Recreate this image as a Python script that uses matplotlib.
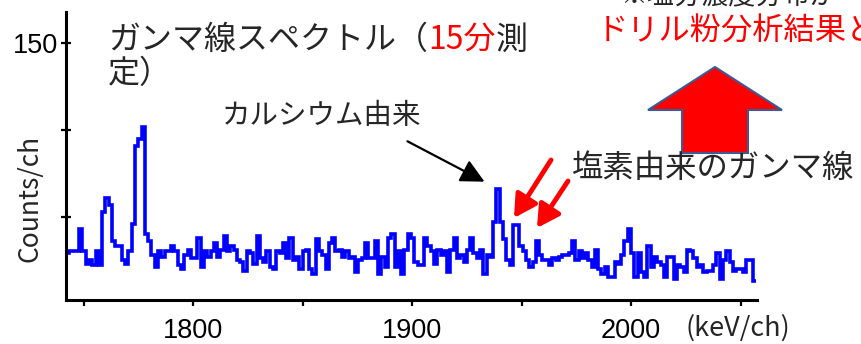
import numpy as np
import matplotlib.pyplot as plt
from matplotlib.patches import Polygon

plt.rcParams['font.family'] = ['Noto Sans CJK JP', 'DejaVu Sans']

# スペクトル (1.5 keV/ch, 1742 keV から)
e_start = 1742.0
ch_width = 1.5
counts = [
    29, 30, 30, 30, 43, 30, 23, 25, 22, 30,
    22, 53, 61, 57, 36, 33, 33, 25, 23, 30,
    46, 91, 95, 102, 40, 36, 28, 21, 30, 27,
    30, 30, 33, 30, 22, 20, 28, 31, 26, 26,
    38, 21, 30, 27, 30, 35, 27, 31, 39, 30,
    33, 31, 25, 24, 19, 30, 29, 23, 39, 26,
    24, 30, 21, 20, 30, 29, 35, 26, 38, 25,
    27, 20, 30, 31, 20, 17, 37, 30, 28, 20,
    35, 38, 30, 31, 27, 30, 26, 27, 18, 25,
    26, 35, 26, 26, 36, 17, 27, 21, 38, 40,
    21, 30, 17, 31, 40, 38, 24, 22, 22, 38,
    33, 30, 23, 31, 28, 30, 18, 31, 38, 26,
    28, 24, 31, 38, 29, 26, 31, 17, 28, 27,
    47, 66, 47, 37, 25, 22, 45, 45, 33, 30,
    25, 21, 24, 36, 28, 25, 25, 22, 26, 25,
    27, 28, 28, 29, 36, 25, 30, 26, 29, 25,
    21, 31, 20, 17, 21, 15, 15, 24, 23, 28,
    36, 43, 29, 15, 29, 18, 15, 33, 21, 27,
    24, 22, 15, 27, 27, 14, 22, 21, 18, 31,
    30, 26, 21, 22, 18, 19, 19, 22, 29, 14,
    25, 30, 24, 19, 20, 20, 18, 25, 25, 13,
]
x_major = [1800, 1900, 2000]
x_minor = [1750, 1850, 1950, 2050]
y_ticks = [50, 100, 150]
y_labels = ['', '', '150']

W, H = 861, 344
fig = plt.figure(figsize=(W / 100, H / 100), dpi=100)
ax = fig.add_axes([66 / W, 1 - 300 / H, (757 - 66) / W, (300 - 12) / H])

edges = e_start + ch_width * np.arange(len(counts) + 1)
ax.stairs(counts, edges, baseline=None, color='#0000ff', lw=2.6)

ax.set_xlim(1742, 2057.5)
ax.set_ylim(2, 168)
for s in ['top', 'right']:
    ax.spines[s].set_visible(False)
for s in ['left', 'bottom']:
    ax.spines[s].set_linewidth(2.2)

ax.set_xticks(x_major)
ax.set_xticks(x_minor, minor=True)
ax.set_yticks(y_ticks)
ax.set_yticklabels(y_labels)
ax.tick_params(axis='x', which='both', direction='out', length=4, width=1.6,
               labelsize=19.5, labelfontfamily='Liberation Sans', pad=9)
ax.tick_params(axis='y', direction='inout', length=7, width=1.6,
               labelsize=19.5, labelfontfamily='Liberation Sans', pad=2)


def fx(x):
    return x / W


def fy(y):
    return 1 - y / H


txt = '#262626'
fig.text(fx(30), fy(198), 'Counts/ch', rotation=90, fontsize=19,
         ha='center', va='center', color=txt)
fig.text(fx(738), fy(328), '(keV/ch)', fontsize=19.5, ha='center',
         va='center', color=txt)

# タイトル (色分け)
t1 = fig.text(fx(108), fy(40), 'ガンマ線スペクトル（', fontsize=23,
              ha='left', va='center', color=txt)
t2 = ax.annotate('15分', xy=(1, 0), xycoords=t1, ha='left', va='bottom',
                 fontsize=23, color='red', annotation_clip=False)
ax.annotate('測', xy=(1, 0), xycoords=t2, ha='left', va='bottom',
            fontsize=23, color=txt, annotation_clip=False)
fig.text(fx(108), fy(74), '定）', fontsize=23, ha='left', va='center',
         color=txt)

fig.text(fx(620), fy(-4), '※塩分濃度分布が', fontsize=19.5, ha='left',
         va='center', color=txt)
fig.text(fx(597), fy(32), 'ドリル粉分析結果と', fontsize=22.5, ha='left',
         va='center', color='red')

fig.text(fx(222), fy(116), 'カルシウム由来', fontsize=20.5, ha='left',
         va='center', color=txt)
fig.text(fx(572), fy(168), '塩素由来のガンマ線', fontsize=22.6, ha='left',
         va='center', color=txt)

# 矢印
ax.annotate('', xy=(487, H - 183), xycoords='figure pixels',
            xytext=(405, H - 140), textcoords='figure pixels',
            arrowprops=dict(arrowstyle='-|>,head_length=0.9,head_width=0.45',
                            color='black', lw=1.6, mutation_scale=16),
            annotation_clip=False)
for (x0, y0, x1, y1) in [(551, 160, 514, 218), (568, 181, 537, 228)]:
    ax.annotate('', xy=(x1, H - y1), xycoords='figure pixels',
                xytext=(x0, H - y0), textcoords='figure pixels',
                arrowprops=dict(arrowstyle='-|>,head_length=0.9,head_width=0.5',
                                color='red', lw=3.5, mutation_scale=15,
                                shrinkA=0, shrinkB=0),
                annotation_clip=False)

# 大きな赤い矢印
pts = [(715, 67), (782, 110), (748, 110), (748, 153),
       (682, 153), (682, 110), (648, 110)]
arrow = Polygon([(fx(x), fy(y)) for x, y in pts], closed=True,
                transform=fig.transFigure, facecolor='red',
                edgecolor='#3C5A96', lw=1.5)
fig.add_artist(arrow)

fig.savefig('out.png', dpi=100)
